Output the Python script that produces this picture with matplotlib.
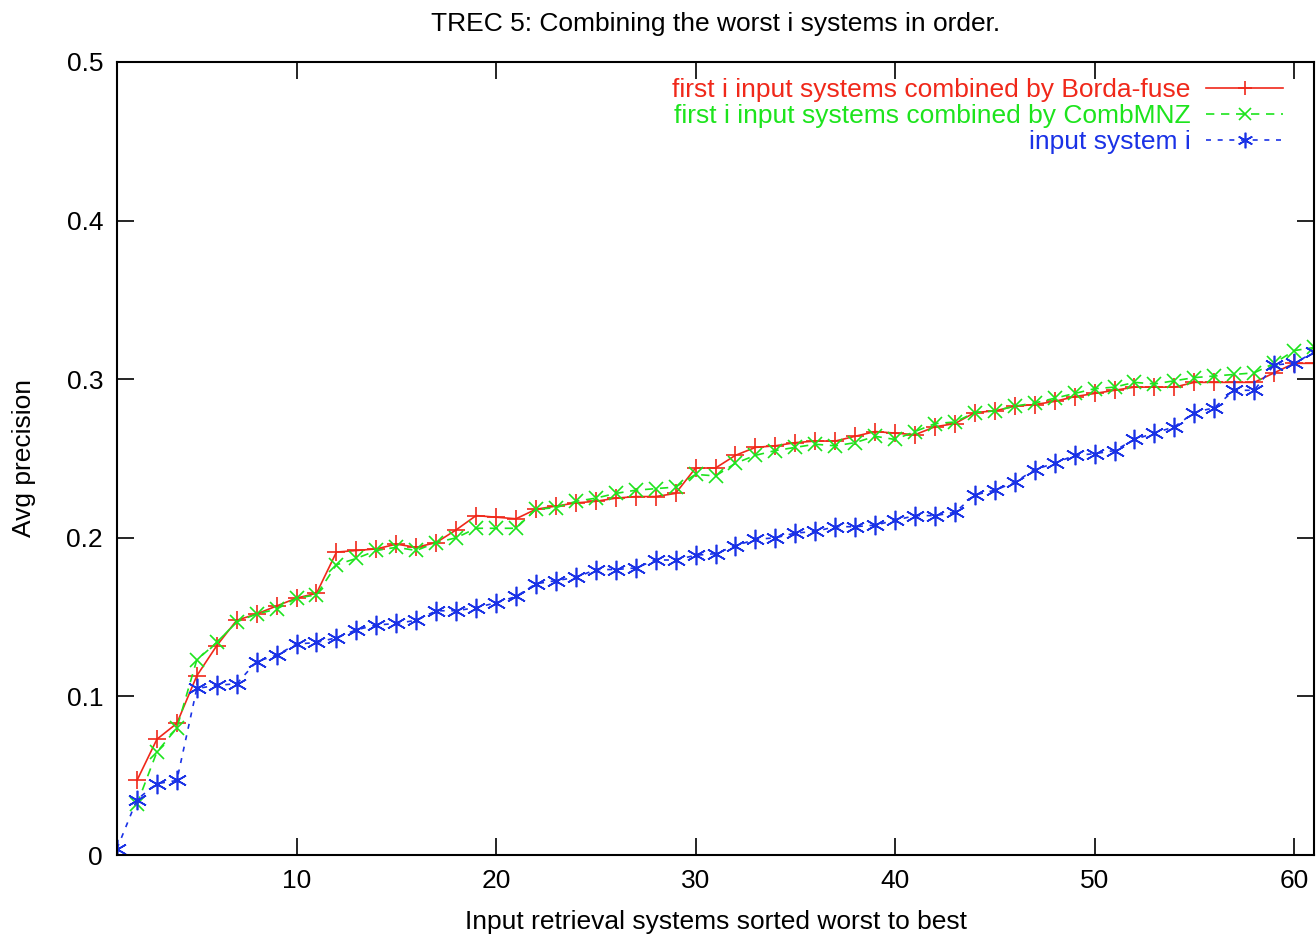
import matplotlib
matplotlib.use('Agg')
import matplotlib.pyplot as plt

plt.rcParams['font.family'] = ['Liberation Sans', 'DejaVu Sans']

# Data
systems = list(range(1, 62))

borda = [None, 0.047, 0.073, 0.083, 0.113, 0.132, 0.148, 0.152, 0.157, 0.162,
         0.165, 0.191, 0.192, 0.193, 0.196, 0.194, 0.197, 0.205, 0.214, 0.213,
         0.212, 0.218, 0.220, 0.222, 0.223, 0.225, 0.226, 0.226, 0.228, 0.244,
         0.244, 0.252, 0.257, 0.258, 0.260, 0.261, 0.261, 0.264, 0.267, 0.266,
         0.265, 0.270, 0.272, 0.279, 0.280, 0.283, 0.284, 0.286, 0.289, 0.291,
         0.293, 0.295, 0.295, 0.295, 0.298, 0.298, 0.298, 0.298, 0.304, 0.310,
         0.310]

combmnz = [None, 0.032, 0.065, 0.080, 0.123, 0.134, 0.147, 0.152, 0.155, 0.162,
           0.164, 0.183, 0.187, 0.192, 0.194, 0.192, 0.197, 0.200, 0.206, 0.206,
           0.206, 0.218, 0.219, 0.223, 0.225, 0.228, 0.230, 0.231, 0.232, 0.240,
           0.239, 0.247, 0.252, 0.255, 0.257, 0.259, 0.258, 0.260, 0.264, 0.262,
           0.267, 0.272, 0.273, 0.279, 0.280, 0.283, 0.285, 0.288, 0.291, 0.294,
           0.295, 0.298, 0.297, 0.299, 0.301, 0.302, 0.303, 0.304, 0.310, 0.318,
           0.320]

single = [0.004, 0.035, 0.045, 0.047, 0.105, 0.107, 0.108, 0.122, 0.126, 0.133,
          0.134, 0.137, 0.142, 0.145, 0.146, 0.148, 0.154, 0.154, 0.156, 0.159,
          0.163, 0.171, 0.173, 0.175, 0.180, 0.180, 0.181, 0.186, 0.186, 0.189,
          0.190, 0.195, 0.199, 0.200, 0.203, 0.204, 0.207, 0.207, 0.208, 0.211,
          0.214, 0.214, 0.216, 0.227, 0.230, 0.235, 0.243, 0.247, 0.252, 0.253,
          0.255, 0.262, 0.266, 0.270, 0.279, 0.282, 0.293, 0.293, 0.309, 0.310,
          0.317]

xticks = [10, 20, 30, 40, 50, 60]
yticks = [0, 0.1, 0.2, 0.3, 0.4, 0.5]

fig = plt.figure(figsize=(13.16, 9.36), dpi=100)
ax = fig.add_axes([0.0889, 0.0865, 0.9096, 0.8473])

red = '#f0281a'
green = '#1de41d'
blue = '#1a32e6'

ax.plot(systems, borda, color=red, lw=1.2, marker='+', ms=13, mew=1.2,
        label='first i input systems combined by Borda-fuse')
ax.plot(systems, combmnz, color=green, lw=1.2, ls=(0, (5, 4)), marker='x', ms=10,
        mew=1.2, label='first i input systems combined by CombMNZ')
ax.plot(systems, single, color=blue, lw=1.2, ls=(0, (3, 4)), marker=(6, 2, 0),
        ms=14, mew=1.2, label='input system i')

ax.set_xlim(1, 61)
ax.set_ylim(0, 0.5)
ax.set_xticks(xticks)
ax.set_yticks(yticks)
ax.set_yticklabels(['0', '0.1', '0.2', '0.3', '0.4', '0.5'])
ax.tick_params(direction='in', length=12, width=1.2, top=True, right=True,
               labelsize=19, pad=10)
for s in ax.spines.values():
    s.set_linewidth(1.5)

ax.set_xlabel('Input retrieval systems sorted worst to best', fontsize=19, labelpad=12)
ax.set_ylabel('Avg precision', fontsize=19, labelpad=22)
ax.set_title('TREC 5: Combining the worst i systems in order.', fontsize=19, pad=22)

leg = ax.legend(loc='upper right', bbox_to_anchor=(0.974, 0.980), frameon=False,
                markerfirst=False, numpoints=1, fontsize=19, labelcolor='linecolor',
                handlelength=2.9, handletextpad=0.6, labelspacing=0.08,
                borderaxespad=0, borderpad=0, markerscale=0.8)

fig.savefig('out.png', dpi=100)
